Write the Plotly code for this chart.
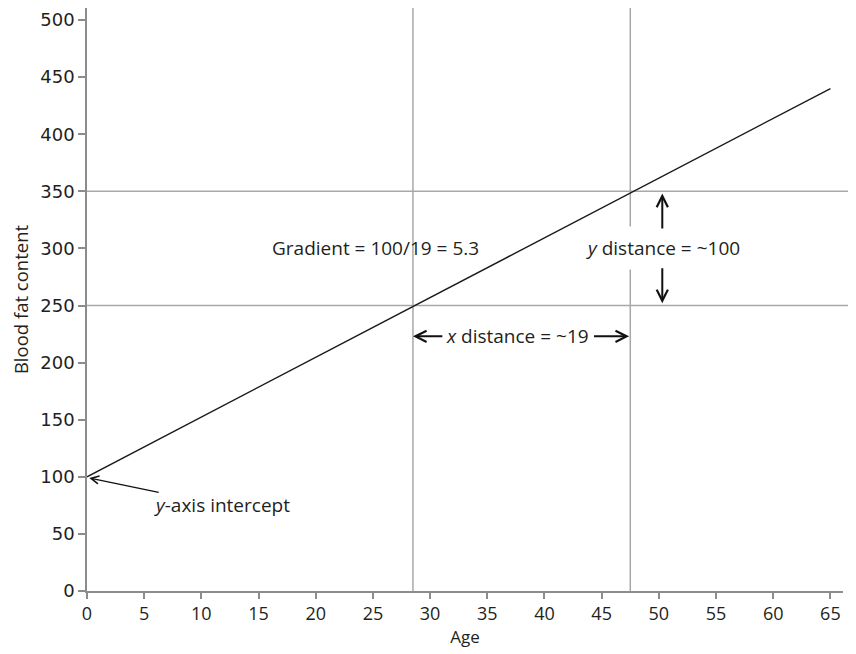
import plotly.graph_objects as go

# Data
ages = [0, 65]
blood_fat = [100, 440]
vertical_marks = [28.5, 47.5]
horizontal_marks = [250, 350]
x_ticks = list(range(0, 70, 5))
y_ticks = list(range(0, 550, 50))

grid_col = "#a8a8a8"
axis_col = "#8c8c8c"
txt_col = "#231f20"
ann_font = dict(family="Open Sans, Lato, sans-serif", size=19, color=txt_col)

fig = go.Figure()
fig.add_trace(go.Scatter(x=ages, y=blood_fat, mode="lines",
                         line=dict(color="#1a1a1a", width=1.4),
                         showlegend=False, hoverinfo="skip"))

shapes = []
for xv in vertical_marks:
    shapes.append(dict(type="line", xref="x", yref="paper", x0=xv, x1=xv,
                       y0=0, y1=1.0, line=dict(color=grid_col, width=1.5), layer="below"))
for yv in horizontal_marks:
    shapes.append(dict(type="line", xref="paper", yref="y", x0=0, x1=1.03,
                       y0=yv, y1=yv, line=dict(color=grid_col, width=1.5), layer="below"))

arrow_style = dict(xref="x", yref="y", axref="x", ayref="y", text="", showarrow=True,
                   arrowhead=5, arrowsize=1.1, arrowwidth=2, arrowcolor="#111")

annotations = [
    dict(x=25.2, y=300, xref="x", yref="y", text="Gradient = 100/19 = 5.3",
         showarrow=False, font=ann_font),
    dict(x=50.35, y=300, xref="x", yref="y", text="<i>y</i> distance = ~100",
         showarrow=False, font=ann_font, bgcolor="white", borderpad=8),
    dict(x=37.6, y=223, xref="x", yref="y", text="<i>x</i> distance = ~19",
         showarrow=False, font=ann_font),
    dict(x=11.8, y=75, xref="x", yref="y", text="<i>y</i>-axis intercept",
         showarrow=False, font=ann_font),
    dict(x=28.5, y=223, ax=31.2, ay=223, **arrow_style),
    dict(x=47.4, y=223, ax=44.2, ay=223, **arrow_style),
    dict(x=50.3, y=348, ax=50.3, ay=316, **arrow_style),
    dict(x=50.3, y=252, ax=50.3, ay=284, **arrow_style),
    dict(x=0.2, y=99, ax=6.4, ay=86, xref="x", yref="y", axref="x", ayref="y",
         text="", showarrow=True, arrowhead=5, arrowsize=1.2, arrowwidth=1.3, arrowcolor="#111"),
]

fig.update_layout(
    width=848, height=646,
    margin=dict(l=79, r=13, t=0, b=63, autoexpand=False),
    paper_bgcolor="white", plot_bgcolor="white",
    shapes=shapes, annotations=annotations,
    xaxis=dict(range=[0, 66.1], tickvals=x_ticks, showgrid=False, zeroline=False,
               showline=True, linecolor=axis_col, linewidth=1.5, automargin=False,
               ticks="outside", ticklen=6, tickcolor=axis_col, tickwidth=1.5,
               tickfont=dict(family="Open Sans, sans-serif", size=18, color=txt_col),
               title=dict(text="Age", font=dict(family="Open Sans, sans-serif", size=17, color=txt_col), standoff=4)),
    yaxis=dict(range=[0, 510.5], tickvals=y_ticks, showgrid=False, zeroline=False,
               showline=True, linecolor=axis_col, linewidth=1.5, automargin=False,
               ticks="outside", ticklen=7, tickcolor=axis_col, tickwidth=1.5,
               tickfont=dict(family="DejaVu Sans, Verdana, sans-serif", size=18, color=txt_col),
               title=dict(text="Blood fat content", font=dict(family="Open Sans, sans-serif", size=18.5, color=txt_col), standoff=23)),
)

fig.write_html("out.html")
